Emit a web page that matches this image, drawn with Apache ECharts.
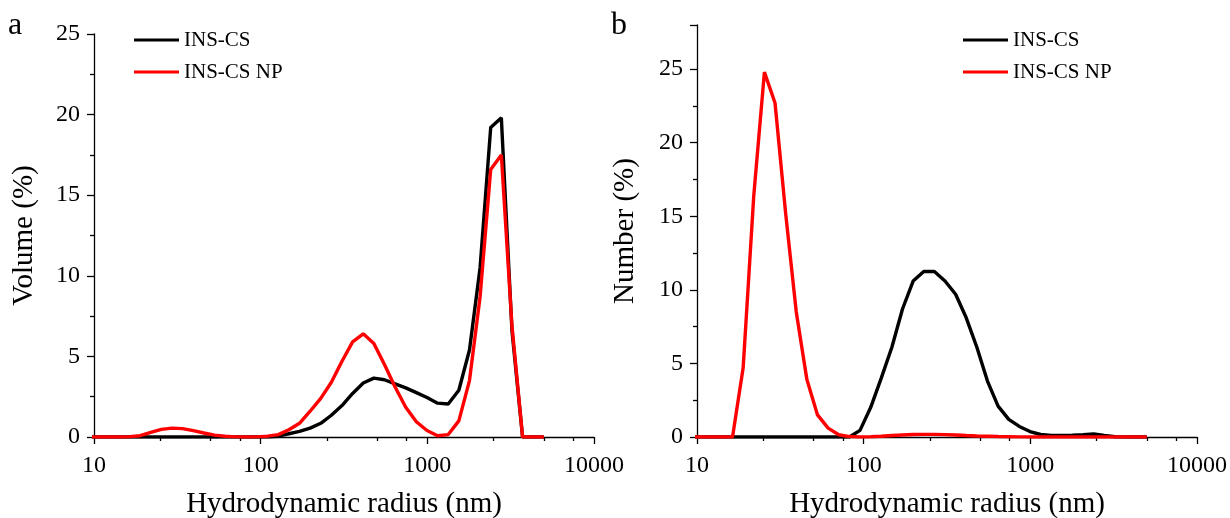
<!DOCTYPE html>
<html>
<head>
<meta charset="utf-8">
<script src="https://cdn.jsdelivr.net/npm/echarts@6/dist/echarts.min.js"></script>
<style>
html,body{margin:0;padding:0;background:#fff;}
#c{width:1230px;height:518px;}
</style>
</head>
<body>
<div id="c"></div>
<script>
// Hydrodynamic radius bins (nm)
const radius = [9.085, 10.52, 12.18, 14.1, 16.34, 18.92, 21.91, 25.38, 29.39, 34.03, 39.41, 45.64, 52.85, 61.2, 70.9, 82.1, 95.05, 110.1, 127.5, 147.65, 171, 198.05, 229.35, 265.6, 307.55, 356.2, 412.5, 477.7, 553, 640.5, 742, 859, 995, 1152.5, 1334.5, 1545.5, 1790, 2072.5, 2400.5, 2780, 3219.5, 3728, 4317.5, 5000];
const seriesNames = ['INS-CS', 'INS-CS NP'];
// Panel a: Volume (%)
const volCS = [0,0,0,0,0,0,0,0,0,0,0,0,0,0,0,0,0,0,
  0.05,0.2,0.35,0.55,0.85,1.35,1.95,2.7,3.35,3.65,3.55,3.3,3.05,2.75,2.45,2.1,2.05,2.9,5.4,10.5,19.2,19.8,6.6,0,0,0];
const volNP = [0,0,0,0,0.02,
  0.08,0.28,0.47,0.55,0.52,0.4,0.25,0.12,0.05,0.01,0,0.01,0.05,0.15,0.45,0.85,1.6,2.4,3.4,4.7,5.9,6.4,5.8,4.5,3.1,1.85,0.95,0.4,0.08,0.15,1.0,3.5,8.7,16.6,17.5,6.9,0,0,0];
// Panel b: Number (%)
const numCS = [0,0,0,0,0,0,0,0,0,0,0,0,0,0,0,0,
  0.45,2.0,4.0,6.1,8.7,10.6,11.25,11.25,10.6,9.7,8.1,6.1,3.8,2.1,1.2,0.72,0.37,0.17,0.1,0.1,0.12,0.15,0.2,0.1,0.02,0,0,0];
const numNP = [0,0,0,0,0,
  4.7,16.4,24.8,22.7,15.2,8.5,3.9,1.5,0.6,0.15,0.03,0,0.02,0.05,0.1,0.14,0.17,0.18,0.18,0.16,0.14,0.1,0.07,0.05,0.03,0.02,0.01,0,
  0,0,0,0,0,0,0,0,0,0,0];
const xMajorTicks = [10, 100, 1000, 10000];
const xMinorTicks = [25, 50, 75, 250, 500, 750, 2500, 5000, 7500];
const yMajorTicks = [0, 5, 10, 15, 20, 25];
const yMinorTicks = [2.5, 7.5, 12.5, 17.5, 22.5];
const panelLabels = ['a', 'b'];
const yTitles = ['Volume (%)', 'Number (%)'];
const xTitle = 'Hydrodynamic radius (nm)';

const FONT = '"Liberation Serif", "Times New Roman", serif';
const pair = (vals) => radius.map((r, i) => [r, vals[i]]);

const grids = [
  {left: 94, top: 34, width: 500, height: 403, outerBoundsMode: 'none', containLabel: false},
  {left: 697, top: 25, width: 500, height: 412, outerBoundsMode: 'none', containLabel: false}
];
const yMax = [25, 28];

const axisLineStyle = {color: '#000', width: 1.3};
const xAxes = [], yAxes = [];
[0, 1].forEach(g => {
  xAxes.push({
    type: 'log', logBase: 10, gridIndex: g, min: 10, max: 10000, position: 'bottom',
    name: xTitle, nameLocation: 'middle', nameGap: 53,
    nameTextStyle: {fontFamily: FONT, fontSize: 29, color: '#000'},
    axisLine: {show: true, lineStyle: axisLineStyle},
    axisTick: {show: true, inside: false, length: 7, lineStyle: axisLineStyle, customValues: xMajorTicks},
    axisLabel: {show: true, margin: 17, fontFamily: FONT, fontSize: 24, color: '#000', customValues: xMajorTicks,
      formatter: v => String(Math.round(v))},
    splitLine: {show: false}
  });
  xAxes.push({
    type: 'log', logBase: 10, gridIndex: g, min: 10, max: 10000, position: 'bottom', offset: 0,
    axisLine: {show: false},
    axisTick: {show: true, inside: false, length: 4, lineStyle: axisLineStyle, customValues: xMinorTicks},
    axisLabel: {show: false},
    splitLine: {show: false}
  });
  const yMajor = g === 1 ? yMajorTicks.concat([28]) : yMajorTicks;
  yAxes.push({
    type: 'value', gridIndex: g, min: 0, max: yMax[g], position: 'left',
    name: yTitles[g], nameLocation: 'middle', nameGap: g === 0 ? 55 : 57,
    nameTextStyle: {fontFamily: FONT, fontSize: 29, color: '#000'},
    axisLine: {show: true, lineStyle: axisLineStyle},
    axisTick: {show: true, inside: false, length: 7, lineStyle: axisLineStyle, customValues: yMajor},
    axisLabel: {show: true, margin: 14, fontFamily: FONT, fontSize: 24, color: '#000', customValues: yMajorTicks},
    splitLine: {show: false}
  });
  yAxes.push({
    type: 'value', gridIndex: g, min: 0, max: yMax[g], position: 'left', offset: 0,
    axisLine: {show: false},
    axisTick: {show: true, inside: false, length: 4, lineStyle: axisLineStyle, customValues: yMinorTicks},
    axisLabel: {show: false},
    splitLine: {show: false}
  });
});

function mkSeries(name, vals, g, color, z) {
  return {
    name: name, type: 'line', xAxisIndex: g * 2, yAxisIndex: g * 2,
    data: pair(vals), showSymbol: false, symbol: 'none', smooth: false,
    lineStyle: {color: color, width: 3.4}, itemStyle: {color: color},
    clip: true, z: z, animation: false
  };
}

const legendCommon = {
  orient: 'vertical', icon: 'rect', itemWidth: 45, itemHeight: 3, itemGap: 8, padding: 0,
  textStyle: {fontFamily: FONT, fontSize: 21, color: '#000', lineHeight: 24},
  data: seriesNames, selectedMode: false
};

const chart = echarts.init(document.getElementById('c'), null, {renderer: 'canvas'});
chart.setOption({
  animation: false,
  backgroundColor: '#fff',
  grid: grids,
  xAxis: xAxes,
  yAxis: yAxes,
  legend: [
    Object.assign({left: 134, top: 28}, legendCommon),
    Object.assign({left: 963, top: 28}, legendCommon)
  ],
  graphic: [
    {type: 'text', left: 8, top: 10, style: {text: panelLabels[0], font: '32px ' + FONT, fill: '#000'}},
    {type: 'text', left: 611, top: 10, style: {text: panelLabels[1], font: '32px ' + FONT, fill: '#000'}}
  ],
  series: [
    mkSeries(seriesNames[0], volCS, 0, '#000000', 2),
    mkSeries(seriesNames[1], volNP, 0, '#ff0000', 3),
    mkSeries(seriesNames[0], numCS, 1, '#000000', 2),
    mkSeries(seriesNames[1], numNP, 1, '#ff0000', 3)
  ]
});
</script>
</body>
</html>
